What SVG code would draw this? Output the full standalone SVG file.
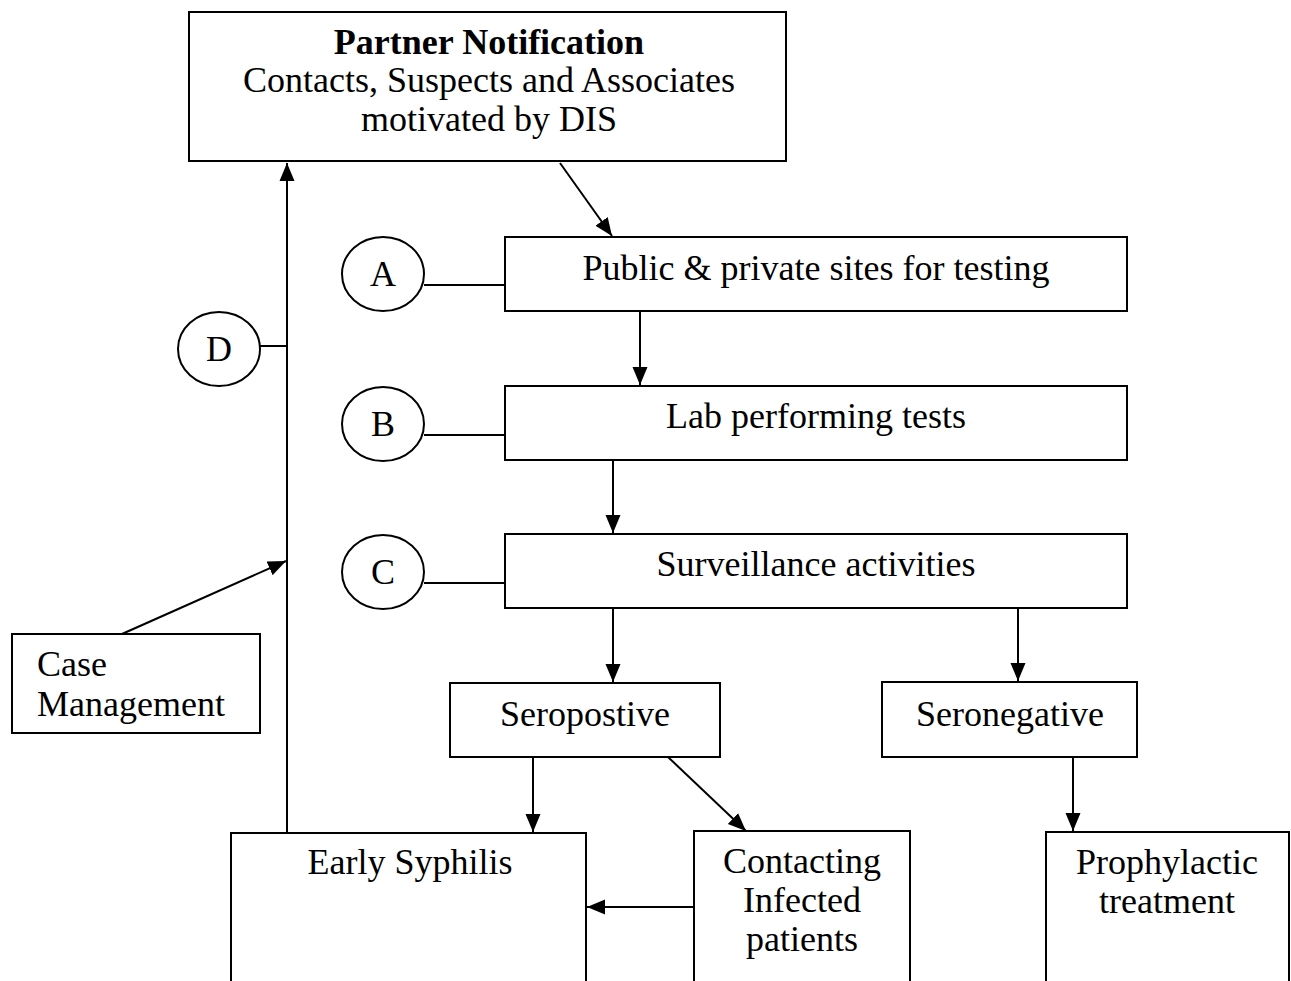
<svg xmlns="http://www.w3.org/2000/svg" width="1291" height="981" viewBox="0 0 1291 981">
<style>
rect,ellipse{fill:#fff;stroke:#000;stroke-width:2}
text{font-family:"Liberation Serif","Times New Roman",serif;font-size:36px;fill:#000;text-anchor:middle}
.l{text-anchor:start}
.b{font-weight:bold}
#connectors line{stroke:#000;stroke-width:2}
</style>
<defs>
<marker id="ah" markerUnits="userSpaceOnUse" markerWidth="18" markerHeight="18" viewBox="0 0 18 18" refX="18" refY="9" orient="auto">
<path d="M0,1.5 L18,9 L0,16.5 Z" fill="#000"/>
</marker>
</defs>
<rect width="1291" height="981" fill="#fff" style="stroke:none"/>
<g id="connectors">
<line x1="287" y1="832" x2="287" y2="163" marker-end="url(#ah)"/>
<line x1="260" y1="346" x2="287" y2="346"/>
<line x1="122" y1="634" x2="286" y2="561" marker-end="url(#ah)"/>
<line x1="560" y1="163" x2="612" y2="236" marker-end="url(#ah)"/>
<line x1="424" y1="285" x2="505" y2="285"/>
<line x1="424" y1="435" x2="505" y2="435"/>
<line x1="424" y1="583" x2="505" y2="583"/>
<line x1="640" y1="311" x2="640" y2="385" marker-end="url(#ah)"/>
<line x1="613" y1="460" x2="613" y2="533" marker-end="url(#ah)"/>
<line x1="613" y1="608" x2="613" y2="682" marker-end="url(#ah)"/>
<line x1="1018" y1="608" x2="1018" y2="681" marker-end="url(#ah)"/>
<line x1="533" y1="757" x2="533" y2="832" marker-end="url(#ah)"/>
<line x1="668" y1="757" x2="746" y2="831" marker-end="url(#ah)"/>
<line x1="694" y1="907" x2="587" y2="907" marker-end="url(#ah)"/>
<line x1="1073" y1="757" x2="1073" y2="831" marker-end="url(#ah)"/>
</g>
<g id="partner">
<rect x="189" y="12" width="597" height="149"/>
<text x="489" y="54" class="b">Partner Notification</text>
<text x="489" y="92">Contacts, Suspects and Associates</text>
<text x="489" y="131">motivated by DIS</text>
</g>
<g id="sites">
<rect x="505" y="237" width="622" height="74"/>
<text x="816" y="280">Public &amp; private sites for testing</text>
</g>
<g id="lab">
<rect x="505" y="386" width="622" height="74"/>
<text x="816" y="428">Lab performing tests</text>
</g>
<g id="surveillance">
<rect x="505" y="534" width="622" height="74"/>
<text x="816" y="576">Surveillance activities</text>
</g>
<g id="circleA"><ellipse cx="383" cy="274" rx="41" ry="37"/><text x="383" y="286">A</text></g>
<g id="circleB"><ellipse cx="383" cy="424" rx="41" ry="37"/><text x="383" y="436">B</text></g>
<g id="circleC"><ellipse cx="383" cy="572" rx="41" ry="37"/><text x="383" y="584">C</text></g>
<g id="circleD"><ellipse cx="219" cy="349" rx="41" ry="37"/><text x="219" y="361">D</text></g>
<g id="case">
<rect x="12" y="634" width="248" height="99"/>
<text x="37" y="676" class="l">Case</text>
<text x="37" y="716" class="l">Management</text>
</g>
<g id="seropos">
<rect x="450" y="683" width="270" height="74"/>
<text x="585" y="726">Seropostive</text>
</g>
<g id="seroneg">
<rect x="882" y="682" width="255" height="75"/>
<text x="1010" y="726">Seronegative</text>
</g>
<g id="early">
<rect x="231" y="833" width="355" height="160"/>
<text x="410" y="874">Early Syphilis</text>
</g>
<g id="contacting">
<rect x="694" y="831" width="216" height="162"/>
<text x="802" y="873">Contacting</text>
<text x="802" y="912">Infected</text>
<text x="802" y="951">patients</text>
</g>
<g id="prophylactic">
<rect x="1046" y="832" width="243" height="161"/>
<text x="1167" y="874">Prophylactic</text>
<text x="1167" y="913">treatment</text>
</g>
</svg>
